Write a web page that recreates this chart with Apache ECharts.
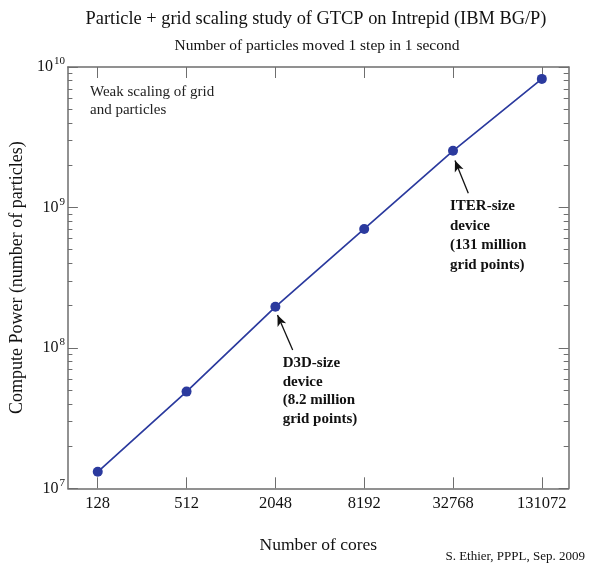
<!DOCTYPE html>
<html>
<head>
<meta charset="utf-8">
<script src="https://cdn.jsdelivr.net/npm/echarts@6/dist/echarts.min.js"></script>
<style>
  html, body { margin: 0; padding: 0; background: #ffffff; }
  #chart { width: 589px; height: 565px; }
</style>
</head>
<body>
<div id="chart"></div>
<script>
// ---- data ----
var cores = [128, 512, 2048, 8192, 32768, 131072];
var particlesPerSec = [1.31e7, 4.88e7, 1.96e8, 7.03e8, 2.53e9, 8.23e9];
var xTickCores = [128, 512, 2048, 8192, 32768, 131072];
var yDecades = [7, 8, 9, 10];
var minorMultipliers = [2, 3, 4, 5, 6, 7, 8, 9];

var titleText = 'Particle + grid scaling study of GTCP on Intrepid (IBM BG/P)';
var subtitleText = 'Number of particles moved 1 step in 1 second';
var noteText = 'Weak scaling of grid\nand particles';
var d3dText = 'D3D-size\ndevice\n(8.2 million\ngrid points)';
var iterText = 'ITER-size\ndevice\n(131 million\ngrid points)';
var creditText = 'S. Ethier, PPPL, Sep. 2009';

// ---- derived (log space) ----
var serif = '"Liberation Serif", "DejaVu Serif", serif';
var blue = '#2b3a9e';
var axisGray = '#6e6e6e';
var seriesData = cores.map(function (c, i) {
  return [Math.log2(c), Math.log10(particlesPerSec[i])];
});
var xTickVals = xTickCores.map(function (c) { return Math.log2(c); });
var minorVals = [];
for (var d = 7; d < 10; d++) {
  minorMultipliers.forEach(function (m) { minorVals.push(d + Math.log10(m)); });
}

var chart = echarts.init(document.getElementById('chart'));

function xAxisBase(pos, showLabel) {
  return {
    type: 'value',
    position: pos,
    min: 6.328,
    max: 17.605,
    axisLine: { show: true, lineStyle: { color: axisGray, width: 1.5 } },
    axisTick: {
      show: true, inside: true, length: 11,
      customValues: xTickVals,
      lineStyle: { color: axisGray, width: 1 }
    },
    axisLabel: {
      show: showLabel,
      customValues: xTickVals,
      margin: 7,
      fontFamily: serif, fontSize: 16.5, color: '#111',
      formatter: function (v) { return String(Math.round(Math.pow(2, v))); }
    },
    splitLine: { show: false },
    name: showLabel ? 'Number of cores' : '',
    nameLocation: 'middle',
    nameGap: 48,
    nameTextStyle: { fontFamily: serif, fontSize: 17.5, color: '#111' }
  };
}

function yAxisBase(pos, vals, len, showLabel, showLine, withName) {
  return {
    type: 'value',
    position: pos,
    min: 7,
    max: 10,
    axisLine: { show: showLine, lineStyle: { color: axisGray, width: 1.5 } },
    axisTick: {
      show: true, inside: true, length: len,
      customValues: vals,
      lineStyle: { color: axisGray, width: 1 }
    },
    axisLabel: {
      show: showLabel,
      customValues: vals,
      margin: 3,
      formatter: function (v) { return '{a|10}{b|' + Math.round(v) + '}'; },
      rich: {
        a: { fontFamily: serif, fontSize: 16, color: '#111' },
        b: { fontFamily: serif, fontSize: 11, color: '#111', padding: [0, 0, 11, 1] }
      }
    },
    splitLine: { show: false },
    name: withName ? 'Compute Power (number of particles)' : '',
    nameLocation: 'middle',
    nameGap: 38,
    nameTextStyle: { fontFamily: serif, fontSize: 18, color: '#111' }
  };
}

var option = {
  backgroundColor: '#ffffff',
  animation: false,
  grid: { left: 65, right: 20.3, top: 67, bottom: 76.7, containLabel: false },
  xAxis: [
    xAxisBase('bottom', true),
    xAxisBase('top', false)
  ],
  yAxis: [
    yAxisBase('left', yDecades, 10, true, true, true),
    yAxisBase('left', minorVals, 4.5, false, false, false),
    yAxisBase('right', yDecades, 10, false, true, false),
    yAxisBase('right', minorVals, 5, false, false, false)
  ],
  series: [{
    type: 'line',
    xAxisIndex: 0,
    yAxisIndex: 0,
    data: seriesData,
    symbol: 'circle',
    symbolSize: 10,
    showSymbol: true,
    lineStyle: { color: blue, width: 1.7 },
    itemStyle: { color: blue },
    silent: true,
    markLine: {
      silent: true,
      symbol: ['none', 'arrow'],
      symbolSize: [7, 11],
      lineStyle: { color: '#111', width: 1.3, type: 'solid' },
      label: { show: false },
      data: [
        [{ x: 292.7, y: 350 }, { x: 277.5, y: 315 }],
        [{ x: 468.3, y: 193.3 }, { x: 455, y: 160.5 }]
      ]
    }
  }],
  graphic: [
    { type: 'text', x: 316, y: 19, style: { text: titleText, font: '18.4px ' + serif, fill: '#111', textAlign: 'center', textVerticalAlign: 'middle' } },
    { type: 'text', x: 317, y: 46, style: { text: subtitleText, font: '15.5px ' + serif, fill: '#111', textAlign: 'center', textVerticalAlign: 'middle' } },
    { type: 'text', x: 90, y: 82.5, style: { text: noteText, font: '15px ' + serif, fill: '#222', lineHeight: 18.5 } },
    { type: 'text', x: 282.7, y: 354, style: { text: d3dText, font: 'bold 15px ' + serif, fill: '#111', lineHeight: 18.5 } },
    { type: 'text', x: 450, y: 196.5, style: { text: iterText, font: 'bold 15px ' + serif, fill: '#111', lineHeight: 19.5 } },
    { type: 'text', x: 585, y: 556.7, style: { text: creditText, font: '13px ' + serif, fill: '#111', textAlign: 'right', textVerticalAlign: 'middle' } }
  ]
};
chart.setOption(option);
</script>
</body>
</html>
